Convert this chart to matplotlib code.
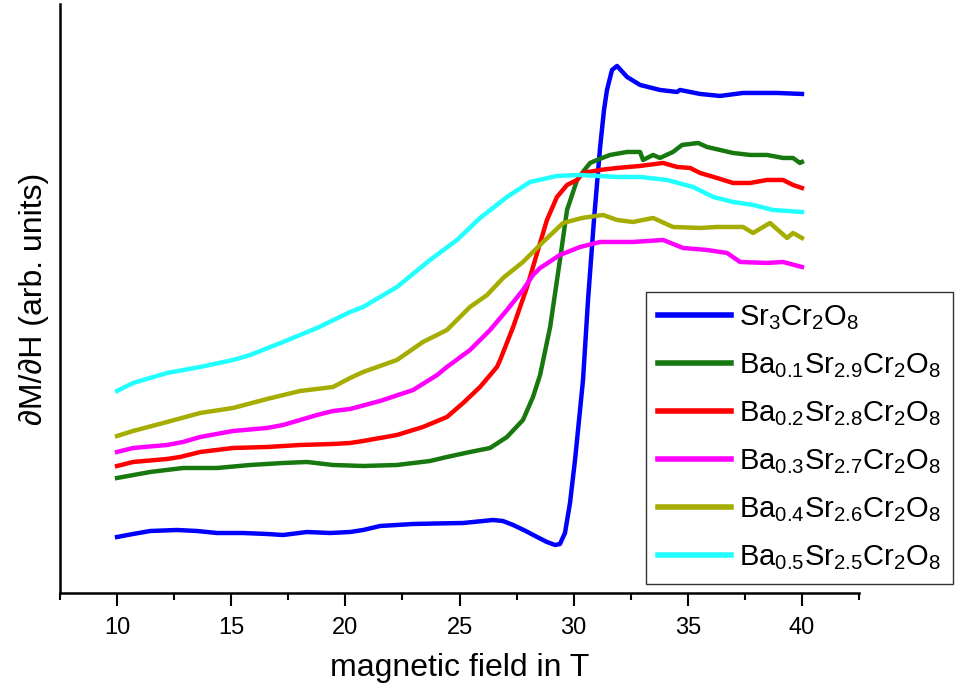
import numpy as np
import matplotlib
matplotlib.use('Agg')
import matplotlib.pyplot as plt
from matplotlib.ticker import MultipleLocator

plt.rcParams['font.family'] = ['Liberation Sans', 'DejaVu Sans']
plt.rcParams['mathtext.fontset'] = 'custom'
plt.rcParams['mathtext.rm'] = 'Liberation Sans'
plt.rcParams['mathtext.default'] = 'regular'

# field values (T) and dM/dH (arb. units)
field_sr = [10.0, 10.70, 11.45, 12.63, 13.5, 14.38, 15.5, 16.57, 17.27, 18.32,
            19.33, 20.21, 20.78, 21.52, 22.97, 24.0, 25.16, 26.47, 26.9, 27.35,
            27.9, 28.40, 28.83, 29.19, 29.40, 29.62, 29.84, 30.06, 30.28, 30.41,
            30.63, 30.89, 31.16, 31.33, 31.46, 31.68, 31.90, 32.34, 32.91, 33.78,
            34.53, 34.66, 35.54, 36.41, 37.42, 38.91, 40.0]
dmdh_sr = [56, 59, 62, 63, 62, 60, 60, 59, 58, 61,
           60, 61, 63, 67, 69, 69.5, 70, 73, 72, 68,
           62, 56, 51, 48, 49, 60, 90, 133, 183, 213,
           293, 373, 446, 483, 503, 523, 527, 516, 508, 503,
           501, 503, 499, 497, 500, 500, 499]

field_ba01 = [10.0, 11.45, 12.89, 14.38, 15.83, 17.27, 18.32, 19.46, 20.78, 22.26,
              23.71, 24.45, 25.46, 26.34, 27.08, 27.78, 28.22, 28.53, 28.97, 29.40,
              29.71, 30.15, 30.37, 30.72, 31.03, 31.59, 32.34, 32.91, 33.04, 33.48,
              33.78, 34.35, 34.75, 35.45, 35.84, 36.41, 36.98, 37.73, 38.47, 39.17,
              39.61, 39.91, 40.0]
dmdh_ba01 = [115, 121, 125, 125, 128, 130, 131, 128, 127, 128,
             132, 136, 141, 145, 156, 173, 196, 218, 266, 333,
             383, 413, 420, 430, 433, 438, 441, 441, 433, 438,
             435, 441, 448, 450, 446, 443, 440, 438, 438, 435,
             435, 430, 431]

field_ba02 = [10.0, 10.70, 12.19, 12.76, 13.64, 15.08, 16.57, 18.02, 19.46, 20.21,
              20.78, 22.26, 23.40, 24.45, 25.16, 25.90, 26.64, 26.78, 27.35, 27.96,
              28.40, 28.83, 29.27, 29.71, 30.15, 30.41, 31.16, 31.90, 32.91, 33.92,
              34.53, 35.10, 35.54, 36.28, 36.98, 37.73, 38.47, 39.17, 39.61, 40.0]
dmdh_ba02 = [127, 131, 134, 136, 141, 145, 146, 148, 149, 150,
             152, 158, 166, 176, 190, 206, 226, 233, 266, 306,
             340, 373, 396, 408, 413, 420, 423, 425, 427, 430,
             426, 425, 420, 415, 410, 410, 413, 413, 408, 405]

field_ba03 = [10.0, 10.70, 12.19, 12.89, 13.64, 15.08, 16.57, 17.27, 18.02, 18.76,
              19.46, 20.21, 21.52, 22.97, 24.02, 24.45, 25.46, 26.34, 27.08, 27.78,
              28.22, 28.53, 29.40, 30.28, 31.16, 32.60, 33.92, 34.79, 35.84, 36.72,
              37.29, 38.47, 39.17, 40.0]
dmdh_ba03 = [141, 145, 148, 151, 156, 162, 165, 168, 173, 178,
             182, 184, 192, 203, 218, 226, 243, 263, 283, 303,
             318, 325, 338, 346, 351, 351, 353, 345, 343, 340,
             331, 330, 331, 326]

field_ba04 = [10.0, 10.70, 12.19, 13.64, 15.08, 16.57, 18.02, 19.46, 20.21, 20.78,
              22.26, 23.40, 24.45, 25.46, 26.21, 26.91, 27.78, 28.66, 29.54, 30.37,
              31.29, 31.90, 32.60, 33.48, 34.35, 35.54, 36.28, 37.42, 37.86, 38.60,
              39.35, 39.61, 40.0]
dmdh_ba04 = [157, 162, 171, 180, 185, 194, 202, 206, 215, 221,
             233, 251, 263, 286, 298, 315, 331, 351, 370, 375,
             378, 373, 371, 375, 366, 365, 366, 366, 360, 370,
             355, 360, 355]

field_ba05 = [10.0, 10.70, 12.19, 13.64, 15.08, 15.83, 17.27, 18.76, 20.21, 20.78,
              22.26, 23.71, 24.89, 25.90, 27.08, 28.09, 29.27, 30.28, 31.90, 32.91,
              34.09, 35.23, 36.11, 36.98, 37.86, 38.73, 40.0]
dmdh_ba05 = [202, 210, 220, 226, 233, 238, 251, 265, 281, 286,
             306, 333, 353, 375, 396, 411, 417, 418, 416, 416,
             413, 406, 396, 391, 388, 383, 381]

labels = [r'Sr$_3$Cr$_2$O$_8$',
          r'Ba$_{0.1}$Sr$_{2.9}$Cr$_2$O$_8$',
          r'Ba$_{0.2}$Sr$_{2.8}$Cr$_2$O$_8$',
          r'Ba$_{0.3}$Sr$_{2.7}$Cr$_2$O$_8$',
          r'Ba$_{0.4}$Sr$_{2.6}$Cr$_2$O$_8$',
          r'Ba$_{0.5}$Sr$_{2.5}$Cr$_2$O$_8$']
colors = ['#0000ff', '#187810', '#ff0000', '#ff00ff', '#a4ad00', '#22ffff']

series = [(field_sr, dmdh_sr), (field_ba01, dmdh_ba01), (field_ba02, dmdh_ba02),
          (field_ba03, dmdh_ba03), (field_ba04, dmdh_ba04), (field_ba05, dmdh_ba05)]

fig = plt.figure(figsize=(9.6, 6.93), dpi=100)
ax = fig.add_axes([0.0625, 0.1443, 0.8323, 0.85])

for (x, y), c, lab in zip(series, colors, labels):
    ax.plot(x, y, color=c, lw=3.2, label=lab, solid_joinstyle='round')

ax.set_xlim(7.5, 42.5)
ax.set_ylim(0, 589)
ax.spines['top'].set_visible(False)
ax.spines['right'].set_visible(False)
ax.spines['left'].set_linewidth(1.8)
ax.spines['bottom'].set_linewidth(1.8)
ax.set_yticks([])
ax.xaxis.set_major_locator(MultipleLocator(5))
ax.xaxis.set_minor_locator(MultipleLocator(2.5))
ax.tick_params(axis='x', which='major', direction='out', length=9, width=1.5,
               labelsize=17, pad=8)
ax.tick_params(axis='x', which='minor', direction='out', length=5, width=1.5)

ax.set_xlabel('magnetic field in T', fontsize=23, labelpad=10)
ax.set_ylabel('\u2202M/\u2202H (arb. units)', fontsize=23, labelpad=8)

leg = ax.legend(loc='upper left', bbox_to_anchor=(0.673, 0.579),
                bbox_transform=fig.transFigure, fontsize=21, frameon=True,
                fancybox=False, edgecolor='black', handlelength=2.5,
                handletextpad=0.3, borderpad=0.4, borderaxespad=0,
                labelspacing=0.66)
leg.get_frame().set_linewidth(1.0)
for h in leg.get_lines():
    h.set_linewidth(4)

fig.savefig('out.png', dpi=100)
